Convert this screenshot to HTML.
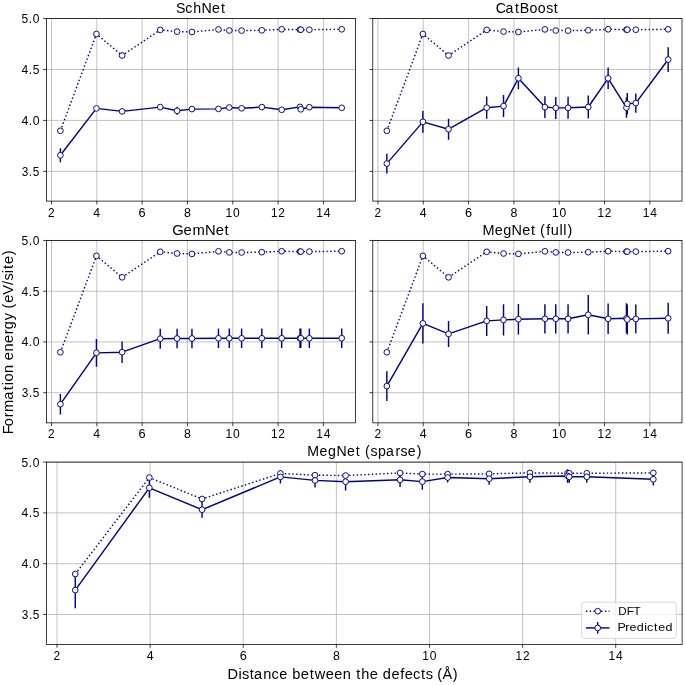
<!DOCTYPE html><html><head><meta charset="utf-8"><style>html,body{margin:0;padding:0;background:#fff;width:685px;height:685px;overflow:hidden}svg{display:block;will-change:transform}text{font-family:"Liberation Sans",sans-serif;fill:#000}</style></head><body>
<svg width="685" height="685" viewBox="0 0 685 685">
<rect width="685" height="685" fill="#fff"/>
<path d="M51.5 18.5V201.1M96.82 18.5V201.1M142.14 18.5V201.1M187.46 18.5V201.1M232.78 18.5V201.1M278.1 18.5V201.1M323.42 18.5V201.1M46.5 171.4H355.57M46.5 120.43H355.57M46.5 69.47H355.57M46.5 18.5H355.57" stroke="#b0b0b0" stroke-width="0.76" fill="none"/>
<path d="M60.39 148.25V162.35M96.44 106.4V110.4M122.1 109.4V113.4M160.24 105.1V109.1M177.08 106.75V114.85M191.95 107.1V111.1M218.46 106.9V110.9M229.3 105.5V109.5M241.62 106.3V110.3M261.82 105.1V109.1M281.68 107.8V111.8M299.99 104.9V108.9M300.81 107.3V111.3M309.35 105.2V109.2M341.72 105.8V109.8" stroke="#00008b" stroke-width="1.43" fill="none"/>
<polyline points="60.39,130.8 96.44,34 122.1,55.5 160.24,29.9 177.08,31.6 191.95,32 218.46,29.4 229.3,30.5 241.62,30.6 261.82,30.3 281.68,29.3 299.99,29.7 300.81,29.7 309.35,29.7 341.72,29.3" stroke="#00008b" stroke-width="1.43" fill="none" stroke-dasharray="1.43 2.36" stroke-linecap="butt"/>
<circle cx="60.39" cy="130.8" r="2.865" fill="#fff" stroke="#00008b" stroke-width="0.955"/>
<circle cx="96.44" cy="34" r="2.865" fill="#fff" stroke="#00008b" stroke-width="0.955"/>
<circle cx="122.1" cy="55.5" r="2.865" fill="#fff" stroke="#00008b" stroke-width="0.955"/>
<circle cx="160.24" cy="29.9" r="2.865" fill="#fff" stroke="#00008b" stroke-width="0.955"/>
<circle cx="177.08" cy="31.6" r="2.865" fill="#fff" stroke="#00008b" stroke-width="0.955"/>
<circle cx="191.95" cy="32" r="2.865" fill="#fff" stroke="#00008b" stroke-width="0.955"/>
<circle cx="218.46" cy="29.4" r="2.865" fill="#fff" stroke="#00008b" stroke-width="0.955"/>
<circle cx="229.3" cy="30.5" r="2.865" fill="#fff" stroke="#00008b" stroke-width="0.955"/>
<circle cx="241.62" cy="30.6" r="2.865" fill="#fff" stroke="#00008b" stroke-width="0.955"/>
<circle cx="261.82" cy="30.3" r="2.865" fill="#fff" stroke="#00008b" stroke-width="0.955"/>
<circle cx="281.68" cy="29.3" r="2.865" fill="#fff" stroke="#00008b" stroke-width="0.955"/>
<circle cx="299.99" cy="29.7" r="2.865" fill="#fff" stroke="#00008b" stroke-width="0.955"/>
<circle cx="300.81" cy="29.7" r="2.865" fill="#fff" stroke="#00008b" stroke-width="0.955"/>
<circle cx="309.35" cy="29.7" r="2.865" fill="#fff" stroke="#00008b" stroke-width="0.955"/>
<circle cx="341.72" cy="29.3" r="2.865" fill="#fff" stroke="#00008b" stroke-width="0.955"/>
<polyline points="60.39,155.3 96.44,108.4 122.1,111.4 160.24,107.1 177.08,110.8 191.95,109.1 218.46,108.9 229.3,107.5 241.62,108.3 261.82,107.1 281.68,109.8 299.99,106.9 300.81,109.3 309.35,107.2 341.72,107.8" stroke="#00008b" stroke-width="1.43" fill="none" stroke-linejoin="round"/>
<circle cx="60.39" cy="155.3" r="2.865" fill="#fff" stroke="#00008b" stroke-width="0.955"/>
<circle cx="96.44" cy="108.4" r="2.865" fill="#fff" stroke="#00008b" stroke-width="0.955"/>
<circle cx="122.1" cy="111.4" r="2.865" fill="#fff" stroke="#00008b" stroke-width="0.955"/>
<circle cx="160.24" cy="107.1" r="2.865" fill="#fff" stroke="#00008b" stroke-width="0.955"/>
<circle cx="177.08" cy="110.8" r="2.865" fill="#fff" stroke="#00008b" stroke-width="0.955"/>
<circle cx="191.95" cy="109.1" r="2.865" fill="#fff" stroke="#00008b" stroke-width="0.955"/>
<circle cx="218.46" cy="108.9" r="2.865" fill="#fff" stroke="#00008b" stroke-width="0.955"/>
<circle cx="229.3" cy="107.5" r="2.865" fill="#fff" stroke="#00008b" stroke-width="0.955"/>
<circle cx="241.62" cy="108.3" r="2.865" fill="#fff" stroke="#00008b" stroke-width="0.955"/>
<circle cx="261.82" cy="107.1" r="2.865" fill="#fff" stroke="#00008b" stroke-width="0.955"/>
<circle cx="281.68" cy="109.8" r="2.865" fill="#fff" stroke="#00008b" stroke-width="0.955"/>
<circle cx="299.99" cy="106.9" r="2.865" fill="#fff" stroke="#00008b" stroke-width="0.955"/>
<circle cx="300.81" cy="109.3" r="2.865" fill="#fff" stroke="#00008b" stroke-width="0.955"/>
<circle cx="309.35" cy="107.2" r="2.865" fill="#fff" stroke="#00008b" stroke-width="0.955"/>
<circle cx="341.72" cy="107.8" r="2.865" fill="#fff" stroke="#00008b" stroke-width="0.955"/>
<rect x="46.5" y="18.5" width="309.07" height="182.6" fill="none" stroke="#000" stroke-width="0.76" stroke-linejoin="miter"/>
<path d="M51.5 201.1v3.34M96.82 201.1v3.34M142.14 201.1v3.34M187.46 201.1v3.34M232.78 201.1v3.34M278.1 201.1v3.34M323.42 201.1v3.34M46.5 171.4h-3.34M46.5 120.43h-3.34M46.5 69.47h-3.34M46.5 18.5h-3.34" stroke="#000" stroke-width="0.76" fill="none"/>
<text transform="translate(0,216.6) scale(0.9922,1)" x="48.42" y="0" font-size="11.97">2</text>
<text transform="translate(0,216.6) scale(1.0295,1)" x="90.71" y="0" font-size="11.97">4</text>
<text transform="translate(0,216.6) scale(1.0662,1)" x="129.98" y="0" font-size="11.97">6</text>
<text transform="translate(0,216.6) scale(1.0395,1)" x="177" y="0" font-size="11.97">8</text>
<text transform="translate(0,216.6) scale(1.0081,1)" x="223.82 231.26" y="0" font-size="11.97">10</text>
<text transform="translate(0,216.6) scale(0.9880,1)" x="274.33 281.76" y="0" font-size="11.97">12</text>
<text transform="translate(0,216.6) scale(1.0083,1)" x="313.68 321.11" y="0" font-size="11.97">14</text>
<text transform="translate(0,175.85) scale(0.9874,1)" x="21.94 29.24 33.18" y="0" font-size="11.97">3.5</text>
<text transform="translate(0,124.88) scale(1.0315,1)" x="20.84 27.92 31.67" y="0" font-size="11.97">4.0</text>
<text transform="translate(0,73.92) scale(1.0062,1)" x="21.45 28.66 32.5" y="0" font-size="11.97">4.5</text>
<text transform="translate(0,22.95) scale(1.0060,1)" x="21.41 28.66 32.55" y="0" font-size="11.97">5.0</text>
<text transform="translate(0,12.85) scale(0.9390,1)" x="187.56 197.27 205.71 214.56 225.85 235.28" y="0" font-size="15.15">SchNet</text>
<path d="M377.95 18.5V201.1M423.27 18.5V201.1M468.59 18.5V201.1M513.91 18.5V201.1M559.23 18.5V201.1M604.55 18.5V201.1M649.87 18.5V201.1M372.79 171.4H681.99M372.79 120.43H681.99M372.79 69.47H681.99M372.79 18.5H681.99" stroke="#b0b0b0" stroke-width="0.76" fill="none"/>
<path d="M386.84 153.7V173.5M422.89 110.95V132.75M448.55 118.7V139.7M486.69 96.6V118.8M503.53 95.1V117.1M518.4 67.4V89.2M544.91 96.2V118M555.75 96.9V118.9M568.07 96.8V118.8M588.27 95.6V118.4M608.13 67.5V89.1M626.44 97.4V117.8M627.26 93V114.6M635.8 93.4V112.8M668.17 47.2V71.9" stroke="#00008b" stroke-width="1.43" fill="none"/>
<polyline points="386.84,130.8 422.89,34 448.55,55.5 486.69,29.9 503.53,31.6 518.4,32 544.91,29.4 555.75,30.5 568.07,30.6 588.27,30.3 608.13,29.3 626.44,29.7 627.26,29.7 635.8,29.7 668.17,29.3" stroke="#00008b" stroke-width="1.43" fill="none" stroke-dasharray="1.43 2.36" stroke-linecap="butt"/>
<circle cx="386.84" cy="130.8" r="2.865" fill="#fff" stroke="#00008b" stroke-width="0.955"/>
<circle cx="422.89" cy="34" r="2.865" fill="#fff" stroke="#00008b" stroke-width="0.955"/>
<circle cx="448.55" cy="55.5" r="2.865" fill="#fff" stroke="#00008b" stroke-width="0.955"/>
<circle cx="486.69" cy="29.9" r="2.865" fill="#fff" stroke="#00008b" stroke-width="0.955"/>
<circle cx="503.53" cy="31.6" r="2.865" fill="#fff" stroke="#00008b" stroke-width="0.955"/>
<circle cx="518.4" cy="32" r="2.865" fill="#fff" stroke="#00008b" stroke-width="0.955"/>
<circle cx="544.91" cy="29.4" r="2.865" fill="#fff" stroke="#00008b" stroke-width="0.955"/>
<circle cx="555.75" cy="30.5" r="2.865" fill="#fff" stroke="#00008b" stroke-width="0.955"/>
<circle cx="568.07" cy="30.6" r="2.865" fill="#fff" stroke="#00008b" stroke-width="0.955"/>
<circle cx="588.27" cy="30.3" r="2.865" fill="#fff" stroke="#00008b" stroke-width="0.955"/>
<circle cx="608.13" cy="29.3" r="2.865" fill="#fff" stroke="#00008b" stroke-width="0.955"/>
<circle cx="626.44" cy="29.7" r="2.865" fill="#fff" stroke="#00008b" stroke-width="0.955"/>
<circle cx="627.26" cy="29.7" r="2.865" fill="#fff" stroke="#00008b" stroke-width="0.955"/>
<circle cx="635.8" cy="29.7" r="2.865" fill="#fff" stroke="#00008b" stroke-width="0.955"/>
<circle cx="668.17" cy="29.3" r="2.865" fill="#fff" stroke="#00008b" stroke-width="0.955"/>
<polyline points="386.84,163.6 422.89,121.85 448.55,129.2 486.69,107.7 503.53,106.1 518.4,78.3 544.91,107.1 555.75,107.9 568.07,107.8 588.27,107 608.13,78.3 626.44,107.6 627.26,103.8 635.8,103.1 668.17,59.55" stroke="#00008b" stroke-width="1.43" fill="none" stroke-linejoin="round"/>
<circle cx="386.84" cy="163.6" r="2.865" fill="#fff" stroke="#00008b" stroke-width="0.955"/>
<circle cx="422.89" cy="121.85" r="2.865" fill="#fff" stroke="#00008b" stroke-width="0.955"/>
<circle cx="448.55" cy="129.2" r="2.865" fill="#fff" stroke="#00008b" stroke-width="0.955"/>
<circle cx="486.69" cy="107.7" r="2.865" fill="#fff" stroke="#00008b" stroke-width="0.955"/>
<circle cx="503.53" cy="106.1" r="2.865" fill="#fff" stroke="#00008b" stroke-width="0.955"/>
<circle cx="518.4" cy="78.3" r="2.865" fill="#fff" stroke="#00008b" stroke-width="0.955"/>
<circle cx="544.91" cy="107.1" r="2.865" fill="#fff" stroke="#00008b" stroke-width="0.955"/>
<circle cx="555.75" cy="107.9" r="2.865" fill="#fff" stroke="#00008b" stroke-width="0.955"/>
<circle cx="568.07" cy="107.8" r="2.865" fill="#fff" stroke="#00008b" stroke-width="0.955"/>
<circle cx="588.27" cy="107" r="2.865" fill="#fff" stroke="#00008b" stroke-width="0.955"/>
<circle cx="608.13" cy="78.3" r="2.865" fill="#fff" stroke="#00008b" stroke-width="0.955"/>
<circle cx="626.44" cy="107.6" r="2.865" fill="#fff" stroke="#00008b" stroke-width="0.955"/>
<circle cx="627.26" cy="103.8" r="2.865" fill="#fff" stroke="#00008b" stroke-width="0.955"/>
<circle cx="635.8" cy="103.1" r="2.865" fill="#fff" stroke="#00008b" stroke-width="0.955"/>
<circle cx="668.17" cy="59.55" r="2.865" fill="#fff" stroke="#00008b" stroke-width="0.955"/>
<rect x="372.79" y="18.5" width="309.2" height="182.6" fill="none" stroke="#000" stroke-width="0.76" stroke-linejoin="miter"/>
<path d="M377.95 201.1v3.34M423.27 201.1v3.34M468.59 201.1v3.34M513.91 201.1v3.34M559.23 201.1v3.34M604.55 201.1v3.34M649.87 201.1v3.34M372.79 171.4h-3.34M372.79 120.43h-3.34M372.79 69.47h-3.34M372.79 18.5h-3.34" stroke="#000" stroke-width="0.76" fill="none"/>
<text transform="translate(0,216.6) scale(0.9922,1)" x="377.44" y="0" font-size="11.97">2</text>
<text transform="translate(0,216.6) scale(1.0295,1)" x="407.8" y="0" font-size="11.97">4</text>
<text transform="translate(0,216.6) scale(1.0662,1)" x="436.17" y="0" font-size="11.97">6</text>
<text transform="translate(0,216.6) scale(1.0395,1)" x="491.03" y="0" font-size="11.97">8</text>
<text transform="translate(0,216.6) scale(1.0081,1)" x="547.64 555.08" y="0" font-size="11.97">10</text>
<text transform="translate(0,216.6) scale(0.9880,1)" x="604.76 612.19" y="0" font-size="11.97">12</text>
<text transform="translate(0,216.6) scale(1.0083,1)" x="637.44 644.87" y="0" font-size="11.97">14</text>
<text transform="translate(0,12.85) scale(0.9343,1)" x="530.73 541.19 551.21 556.22 566.65 575.67 584.54 592.81" y="0" font-size="15.15">CatBoost</text>
<path d="M51.5 240.46V422.85M96.82 240.46V422.85M142.14 240.46V422.85M187.46 240.46V422.85M232.78 240.46V422.85M278.1 240.46V422.85M323.42 240.46V422.85M46.54 392.7H355.57M46.54 341.95H355.57M46.54 291.21H355.57M46.54 240.46H355.57" stroke="#b0b0b0" stroke-width="0.76" fill="none"/>
<path d="M60.39 394V414.4M96.44 338.9V366.8M122.1 341.45V362.95M160.24 328.7V348.7M177.08 328.7V348.3M191.95 328.7V348.3M218.46 328.6V348M229.3 328.6V348M241.62 328.6V348M261.82 328.6V348M281.68 328.6V348M299.99 328.6V348M300.81 328.6V348M309.35 328.6V348M341.72 328.5V347.9" stroke="#00008b" stroke-width="1.43" fill="none"/>
<polyline points="60.39,352.28 96.44,255.89 122.1,277.3 160.24,251.81 177.08,253.5 191.95,253.9 218.46,251.31 229.3,252.41 241.62,252.51 261.82,252.21 281.68,251.21 299.99,251.61 300.81,251.61 309.35,251.61 341.72,251.21" stroke="#00008b" stroke-width="1.43" fill="none" stroke-dasharray="1.43 2.36" stroke-linecap="butt"/>
<circle cx="60.39" cy="352.28" r="2.865" fill="#fff" stroke="#00008b" stroke-width="0.955"/>
<circle cx="96.44" cy="255.89" r="2.865" fill="#fff" stroke="#00008b" stroke-width="0.955"/>
<circle cx="122.1" cy="277.3" r="2.865" fill="#fff" stroke="#00008b" stroke-width="0.955"/>
<circle cx="160.24" cy="251.81" r="2.865" fill="#fff" stroke="#00008b" stroke-width="0.955"/>
<circle cx="177.08" cy="253.5" r="2.865" fill="#fff" stroke="#00008b" stroke-width="0.955"/>
<circle cx="191.95" cy="253.9" r="2.865" fill="#fff" stroke="#00008b" stroke-width="0.955"/>
<circle cx="218.46" cy="251.31" r="2.865" fill="#fff" stroke="#00008b" stroke-width="0.955"/>
<circle cx="229.3" cy="252.41" r="2.865" fill="#fff" stroke="#00008b" stroke-width="0.955"/>
<circle cx="241.62" cy="252.51" r="2.865" fill="#fff" stroke="#00008b" stroke-width="0.955"/>
<circle cx="261.82" cy="252.21" r="2.865" fill="#fff" stroke="#00008b" stroke-width="0.955"/>
<circle cx="281.68" cy="251.21" r="2.865" fill="#fff" stroke="#00008b" stroke-width="0.955"/>
<circle cx="299.99" cy="251.61" r="2.865" fill="#fff" stroke="#00008b" stroke-width="0.955"/>
<circle cx="300.81" cy="251.61" r="2.865" fill="#fff" stroke="#00008b" stroke-width="0.955"/>
<circle cx="309.35" cy="251.61" r="2.865" fill="#fff" stroke="#00008b" stroke-width="0.955"/>
<circle cx="341.72" cy="251.21" r="2.865" fill="#fff" stroke="#00008b" stroke-width="0.955"/>
<polyline points="60.39,404.2 96.44,352.85 122.1,352.2 160.24,338.7 177.08,338.5 191.95,338.5 218.46,338.3 229.3,338.3 241.62,338.3 261.82,338.3 281.68,338.3 299.99,338.3 300.81,338.3 309.35,338.3 341.72,338.2" stroke="#00008b" stroke-width="1.43" fill="none" stroke-linejoin="round"/>
<circle cx="60.39" cy="404.2" r="2.865" fill="#fff" stroke="#00008b" stroke-width="0.955"/>
<circle cx="96.44" cy="352.85" r="2.865" fill="#fff" stroke="#00008b" stroke-width="0.955"/>
<circle cx="122.1" cy="352.2" r="2.865" fill="#fff" stroke="#00008b" stroke-width="0.955"/>
<circle cx="160.24" cy="338.7" r="2.865" fill="#fff" stroke="#00008b" stroke-width="0.955"/>
<circle cx="177.08" cy="338.5" r="2.865" fill="#fff" stroke="#00008b" stroke-width="0.955"/>
<circle cx="191.95" cy="338.5" r="2.865" fill="#fff" stroke="#00008b" stroke-width="0.955"/>
<circle cx="218.46" cy="338.3" r="2.865" fill="#fff" stroke="#00008b" stroke-width="0.955"/>
<circle cx="229.3" cy="338.3" r="2.865" fill="#fff" stroke="#00008b" stroke-width="0.955"/>
<circle cx="241.62" cy="338.3" r="2.865" fill="#fff" stroke="#00008b" stroke-width="0.955"/>
<circle cx="261.82" cy="338.3" r="2.865" fill="#fff" stroke="#00008b" stroke-width="0.955"/>
<circle cx="281.68" cy="338.3" r="2.865" fill="#fff" stroke="#00008b" stroke-width="0.955"/>
<circle cx="299.99" cy="338.3" r="2.865" fill="#fff" stroke="#00008b" stroke-width="0.955"/>
<circle cx="300.81" cy="338.3" r="2.865" fill="#fff" stroke="#00008b" stroke-width="0.955"/>
<circle cx="309.35" cy="338.3" r="2.865" fill="#fff" stroke="#00008b" stroke-width="0.955"/>
<circle cx="341.72" cy="338.2" r="2.865" fill="#fff" stroke="#00008b" stroke-width="0.955"/>
<rect x="46.54" y="240.46" width="309.03" height="182.39" fill="none" stroke="#000" stroke-width="0.76" stroke-linejoin="miter"/>
<path d="M51.5 422.85v3.34M96.82 422.85v3.34M142.14 422.85v3.34M187.46 422.85v3.34M232.78 422.85v3.34M278.1 422.85v3.34M323.42 422.85v3.34M46.54 392.7h-3.34M46.54 341.95h-3.34M46.54 291.21h-3.34M46.54 240.46h-3.34" stroke="#000" stroke-width="0.76" fill="none"/>
<text transform="translate(0,438.45) scale(0.9922,1)" x="48.42" y="0" font-size="11.97">2</text>
<text transform="translate(0,438.45) scale(1.0295,1)" x="90.71" y="0" font-size="11.97">4</text>
<text transform="translate(0,438.45) scale(1.0662,1)" x="129.98" y="0" font-size="11.97">6</text>
<text transform="translate(0,438.45) scale(1.0395,1)" x="177" y="0" font-size="11.97">8</text>
<text transform="translate(0,438.45) scale(1.0081,1)" x="223.82 231.26" y="0" font-size="11.97">10</text>
<text transform="translate(0,438.45) scale(0.9880,1)" x="274.33 281.76" y="0" font-size="11.97">12</text>
<text transform="translate(0,438.45) scale(1.0083,1)" x="313.68 321.11" y="0" font-size="11.97">14</text>
<text transform="translate(0,397.15) scale(0.9874,1)" x="21.98 29.28 33.22" y="0" font-size="11.97">3.5</text>
<text transform="translate(0,346.4) scale(1.0315,1)" x="20.88 27.95 31.7" y="0" font-size="11.97">4.0</text>
<text transform="translate(0,295.66) scale(1.0062,1)" x="21.49 28.7 32.54" y="0" font-size="11.97">4.5</text>
<text transform="translate(0,244.91) scale(1.0060,1)" x="21.45 28.7 32.59" y="0" font-size="11.97">5.0</text>
<text transform="translate(0,234.81) scale(0.9770,1)" x="176.33 187.83 196.95 209.88 220.78 229.92" y="0" font-size="15.15">GemNet</text>
<path d="M377.95 240.46V422.85M423.27 240.46V422.85M468.59 240.46V422.85M513.91 240.46V422.85M559.23 240.46V422.85M604.55 240.46V422.85M649.87 240.46V422.85M372.79 392.7H681.99M372.79 341.95H681.99M372.79 291.21H681.99M372.79 240.46H681.99" stroke="#b0b0b0" stroke-width="0.76" fill="none"/>
<path d="M386.84 371.2V401M422.89 303.3V343.5M448.55 320.9V346.9M486.69 305.9V335.9M503.53 304.2V335.6M518.4 303.9V334.5M544.91 304.15V333.45M555.75 304.15V333.45M568.07 304.15V333.45M588.27 295.1V334.5M608.13 303.6V334M626.44 303.3V333.3M627.26 304.5V334.5M635.8 304.45V333.35M668.17 302.75V333.85" stroke="#00008b" stroke-width="1.43" fill="none"/>
<polyline points="386.84,352.28 422.89,255.89 448.55,277.3 486.69,251.81 503.53,253.5 518.4,253.9 544.91,251.31 555.75,252.41 568.07,252.51 588.27,252.21 608.13,251.21 626.44,251.61 627.26,251.61 635.8,251.61 668.17,251.21" stroke="#00008b" stroke-width="1.43" fill="none" stroke-dasharray="1.43 2.36" stroke-linecap="butt"/>
<circle cx="386.84" cy="352.28" r="2.865" fill="#fff" stroke="#00008b" stroke-width="0.955"/>
<circle cx="422.89" cy="255.89" r="2.865" fill="#fff" stroke="#00008b" stroke-width="0.955"/>
<circle cx="448.55" cy="277.3" r="2.865" fill="#fff" stroke="#00008b" stroke-width="0.955"/>
<circle cx="486.69" cy="251.81" r="2.865" fill="#fff" stroke="#00008b" stroke-width="0.955"/>
<circle cx="503.53" cy="253.5" r="2.865" fill="#fff" stroke="#00008b" stroke-width="0.955"/>
<circle cx="518.4" cy="253.9" r="2.865" fill="#fff" stroke="#00008b" stroke-width="0.955"/>
<circle cx="544.91" cy="251.31" r="2.865" fill="#fff" stroke="#00008b" stroke-width="0.955"/>
<circle cx="555.75" cy="252.41" r="2.865" fill="#fff" stroke="#00008b" stroke-width="0.955"/>
<circle cx="568.07" cy="252.51" r="2.865" fill="#fff" stroke="#00008b" stroke-width="0.955"/>
<circle cx="588.27" cy="252.21" r="2.865" fill="#fff" stroke="#00008b" stroke-width="0.955"/>
<circle cx="608.13" cy="251.21" r="2.865" fill="#fff" stroke="#00008b" stroke-width="0.955"/>
<circle cx="626.44" cy="251.61" r="2.865" fill="#fff" stroke="#00008b" stroke-width="0.955"/>
<circle cx="627.26" cy="251.61" r="2.865" fill="#fff" stroke="#00008b" stroke-width="0.955"/>
<circle cx="635.8" cy="251.61" r="2.865" fill="#fff" stroke="#00008b" stroke-width="0.955"/>
<circle cx="668.17" cy="251.21" r="2.865" fill="#fff" stroke="#00008b" stroke-width="0.955"/>
<polyline points="386.84,386.1 422.89,323.4 448.55,333.9 486.69,320.9 503.53,319.9 518.4,319.2 544.91,318.8 555.75,318.8 568.07,318.8 588.27,314.8 608.13,318.8 626.44,318.3 627.26,319.5 635.8,318.9 668.17,318.3" stroke="#00008b" stroke-width="1.43" fill="none" stroke-linejoin="round"/>
<circle cx="386.84" cy="386.1" r="2.865" fill="#fff" stroke="#00008b" stroke-width="0.955"/>
<circle cx="422.89" cy="323.4" r="2.865" fill="#fff" stroke="#00008b" stroke-width="0.955"/>
<circle cx="448.55" cy="333.9" r="2.865" fill="#fff" stroke="#00008b" stroke-width="0.955"/>
<circle cx="486.69" cy="320.9" r="2.865" fill="#fff" stroke="#00008b" stroke-width="0.955"/>
<circle cx="503.53" cy="319.9" r="2.865" fill="#fff" stroke="#00008b" stroke-width="0.955"/>
<circle cx="518.4" cy="319.2" r="2.865" fill="#fff" stroke="#00008b" stroke-width="0.955"/>
<circle cx="544.91" cy="318.8" r="2.865" fill="#fff" stroke="#00008b" stroke-width="0.955"/>
<circle cx="555.75" cy="318.8" r="2.865" fill="#fff" stroke="#00008b" stroke-width="0.955"/>
<circle cx="568.07" cy="318.8" r="2.865" fill="#fff" stroke="#00008b" stroke-width="0.955"/>
<circle cx="588.27" cy="314.8" r="2.865" fill="#fff" stroke="#00008b" stroke-width="0.955"/>
<circle cx="608.13" cy="318.8" r="2.865" fill="#fff" stroke="#00008b" stroke-width="0.955"/>
<circle cx="626.44" cy="318.3" r="2.865" fill="#fff" stroke="#00008b" stroke-width="0.955"/>
<circle cx="627.26" cy="319.5" r="2.865" fill="#fff" stroke="#00008b" stroke-width="0.955"/>
<circle cx="635.8" cy="318.9" r="2.865" fill="#fff" stroke="#00008b" stroke-width="0.955"/>
<circle cx="668.17" cy="318.3" r="2.865" fill="#fff" stroke="#00008b" stroke-width="0.955"/>
<rect x="372.79" y="240.46" width="309.2" height="182.39" fill="none" stroke="#000" stroke-width="0.76" stroke-linejoin="miter"/>
<path d="M377.95 422.85v3.34M423.27 422.85v3.34M468.59 422.85v3.34M513.91 422.85v3.34M559.23 422.85v3.34M604.55 422.85v3.34M649.87 422.85v3.34M372.79 392.7h-3.34M372.79 341.95h-3.34M372.79 291.21h-3.34M372.79 240.46h-3.34" stroke="#000" stroke-width="0.76" fill="none"/>
<text transform="translate(0,438.45) scale(0.9922,1)" x="377.44" y="0" font-size="11.97">2</text>
<text transform="translate(0,438.45) scale(1.0295,1)" x="407.8" y="0" font-size="11.97">4</text>
<text transform="translate(0,438.45) scale(1.0662,1)" x="436.17" y="0" font-size="11.97">6</text>
<text transform="translate(0,438.45) scale(1.0395,1)" x="491.03" y="0" font-size="11.97">8</text>
<text transform="translate(0,438.45) scale(1.0081,1)" x="547.64 555.08" y="0" font-size="11.97">10</text>
<text transform="translate(0,438.45) scale(0.9880,1)" x="604.76 612.19" y="0" font-size="11.97">12</text>
<text transform="translate(0,438.45) scale(1.0083,1)" x="637.44 644.87" y="0" font-size="11.97">14</text>
<text transform="translate(0,234.81) scale(0.9571,1)" x="504.09 516.85 525.72 534.49 545.59 554.88 560.03 564.32 570.65 575.41 584.53 588.53 592.87" y="0" font-size="15.15">MegNet (full)</text>
<path d="M57 462.1V644.45M150.12 462.1V644.45M243.24 462.1V644.45M336.36 462.1V644.45M429.48 462.1V644.45M522.6 462.1V644.45M615.72 462.1V644.45M46.54 614.5H682.1M46.54 563.7H682.1M46.54 512.9H682.1M46.54 462.1H682.1" stroke="#b0b0b0" stroke-width="0.76" fill="none"/>
<path d="M75.27 572V608.2M149.34 477.92V497.78M202.06 501.55V517.85M280.42 470.3V483.5M315.03 473.4V487.4M345.59 472.8V490.6M400.07 472.7V486.9M422.34 473.5V489.7M447.65 472.5V482.5M489.15 472.7V484.7M529.95 470.8V482.8M567.57 469.2V482.8M569.27 470.8V482.8M586.8 470.8V482.8M653.33 473.1V485.5" stroke="#00008b" stroke-width="1.43" fill="none"/>
<polyline points="75.27,574.03 149.34,477.55 202.06,498.98 280.42,473.46 315.03,475.16 345.59,475.56 400.07,472.96 422.34,474.06 447.65,474.16 489.15,473.86 529.95,472.86 567.57,473.26 569.27,473.26 586.8,473.26 653.33,472.86" stroke="#00008b" stroke-width="1.43" fill="none" stroke-dasharray="1.43 2.36" stroke-linecap="butt"/>
<circle cx="75.27" cy="574.03" r="2.865" fill="#fff" stroke="#00008b" stroke-width="0.955"/>
<circle cx="149.34" cy="477.55" r="2.865" fill="#fff" stroke="#00008b" stroke-width="0.955"/>
<circle cx="202.06" cy="498.98" r="2.865" fill="#fff" stroke="#00008b" stroke-width="0.955"/>
<circle cx="280.42" cy="473.46" r="2.865" fill="#fff" stroke="#00008b" stroke-width="0.955"/>
<circle cx="315.03" cy="475.16" r="2.865" fill="#fff" stroke="#00008b" stroke-width="0.955"/>
<circle cx="345.59" cy="475.56" r="2.865" fill="#fff" stroke="#00008b" stroke-width="0.955"/>
<circle cx="400.07" cy="472.96" r="2.865" fill="#fff" stroke="#00008b" stroke-width="0.955"/>
<circle cx="422.34" cy="474.06" r="2.865" fill="#fff" stroke="#00008b" stroke-width="0.955"/>
<circle cx="447.65" cy="474.16" r="2.865" fill="#fff" stroke="#00008b" stroke-width="0.955"/>
<circle cx="489.15" cy="473.86" r="2.865" fill="#fff" stroke="#00008b" stroke-width="0.955"/>
<circle cx="529.95" cy="472.86" r="2.865" fill="#fff" stroke="#00008b" stroke-width="0.955"/>
<circle cx="567.57" cy="473.26" r="2.865" fill="#fff" stroke="#00008b" stroke-width="0.955"/>
<circle cx="569.27" cy="473.26" r="2.865" fill="#fff" stroke="#00008b" stroke-width="0.955"/>
<circle cx="586.8" cy="473.26" r="2.865" fill="#fff" stroke="#00008b" stroke-width="0.955"/>
<circle cx="653.33" cy="472.86" r="2.865" fill="#fff" stroke="#00008b" stroke-width="0.955"/>
<polyline points="75.27,590.1 149.34,487.85 202.06,509.7 280.42,476.9 315.03,480.4 345.59,481.7 400.07,479.8 422.34,481.6 447.65,477.5 489.15,478.7 529.95,476.8 567.57,476 569.27,476.8 586.8,476.8 653.33,479.3" stroke="#00008b" stroke-width="1.43" fill="none" stroke-linejoin="round"/>
<circle cx="75.27" cy="590.1" r="2.865" fill="#fff" stroke="#00008b" stroke-width="0.955"/>
<circle cx="149.34" cy="487.85" r="2.865" fill="#fff" stroke="#00008b" stroke-width="0.955"/>
<circle cx="202.06" cy="509.7" r="2.865" fill="#fff" stroke="#00008b" stroke-width="0.955"/>
<circle cx="280.42" cy="476.9" r="2.865" fill="#fff" stroke="#00008b" stroke-width="0.955"/>
<circle cx="315.03" cy="480.4" r="2.865" fill="#fff" stroke="#00008b" stroke-width="0.955"/>
<circle cx="345.59" cy="481.7" r="2.865" fill="#fff" stroke="#00008b" stroke-width="0.955"/>
<circle cx="400.07" cy="479.8" r="2.865" fill="#fff" stroke="#00008b" stroke-width="0.955"/>
<circle cx="422.34" cy="481.6" r="2.865" fill="#fff" stroke="#00008b" stroke-width="0.955"/>
<circle cx="447.65" cy="477.5" r="2.865" fill="#fff" stroke="#00008b" stroke-width="0.955"/>
<circle cx="489.15" cy="478.7" r="2.865" fill="#fff" stroke="#00008b" stroke-width="0.955"/>
<circle cx="529.95" cy="476.8" r="2.865" fill="#fff" stroke="#00008b" stroke-width="0.955"/>
<circle cx="567.57" cy="476" r="2.865" fill="#fff" stroke="#00008b" stroke-width="0.955"/>
<circle cx="569.27" cy="476.8" r="2.865" fill="#fff" stroke="#00008b" stroke-width="0.955"/>
<circle cx="586.8" cy="476.8" r="2.865" fill="#fff" stroke="#00008b" stroke-width="0.955"/>
<circle cx="653.33" cy="479.3" r="2.865" fill="#fff" stroke="#00008b" stroke-width="0.955"/>
<rect x="46.54" y="462.1" width="635.56" height="182.35" fill="none" stroke="#000" stroke-width="0.76" stroke-linejoin="miter"/>
<path d="M57 644.45v3.34M150.12 644.45v3.34M243.24 644.45v3.34M336.36 644.45v3.34M429.48 644.45v3.34M522.6 644.45v3.34M615.72 644.45v3.34M46.54 614.5h-3.34M46.54 563.7h-3.34M46.54 512.9h-3.34M46.54 462.1h-3.34" stroke="#000" stroke-width="0.76" fill="none"/>
<text transform="translate(0,659.95) scale(0.9922,1)" x="53.96" y="0" font-size="11.97">2</text>
<text transform="translate(0,659.95) scale(1.0295,1)" x="142.48" y="0" font-size="11.97">4</text>
<text transform="translate(0,659.95) scale(1.0662,1)" x="224.81" y="0" font-size="11.97">6</text>
<text transform="translate(0,659.95) scale(1.0395,1)" x="320.24" y="0" font-size="11.97">8</text>
<text transform="translate(0,659.95) scale(1.0081,1)" x="418.94 426.38" y="0" font-size="11.97">10</text>
<text transform="translate(0,659.95) scale(0.9880,1)" x="521.81 529.24" y="0" font-size="11.97">12</text>
<text transform="translate(0,659.95) scale(1.0083,1)" x="603.57 611" y="0" font-size="11.97">14</text>
<text transform="translate(0,618.95) scale(0.9874,1)" x="21.98 29.28 33.22" y="0" font-size="11.97">3.5</text>
<text transform="translate(0,568.15) scale(1.0315,1)" x="20.88 27.95 31.7" y="0" font-size="11.97">4.0</text>
<text transform="translate(0,517.35) scale(1.0062,1)" x="21.49 28.7 32.54" y="0" font-size="11.97">4.5</text>
<text transform="translate(0,466.55) scale(1.0060,1)" x="21.45 28.7 32.59" y="0" font-size="11.97">5.0</text>
<text transform="translate(0,456.45) scale(0.9341,1)" x="329.03 342.05 351.14 360.16 371.5 380.97 386.24 390.66 396.59 404.68 413.24 423.32 428.72 436.6 446.05" y="0" font-size="15.15">MegNet (sparse)</text>
<rect x="581.7" y="602.2" width="94.6" height="36.2" rx="2.3" ry="2.3" fill="#fff" fill-opacity="0.8" stroke="#ccc" stroke-opacity="0.8" stroke-width="0.97"/>
<path d="M585.9 611.2H609.5" stroke="#00008b" stroke-width="1.43" stroke-dasharray="1.43 2.36"/>
<circle cx="597.7" cy="611.2" r="2.865" fill="#fff" stroke="#00008b" stroke-width="0.955"/>
<path d="M597.7 622.15V633.65" stroke="#00008b" stroke-width="1.43"/>
<path d="M585.9 627.9H609.5" stroke="#00008b" stroke-width="1.43"/>
<circle cx="597.7" cy="627.9" r="2.865" fill="#fff" stroke="#00008b" stroke-width="0.955"/>
<text transform="translate(0,614.9) scale(1.0003,1)" x="618.11 626.55 633.26" y="0" font-size="11.66">DFT</text>
<text transform="translate(0,631.35) scale(1.0721,1)" x="576.03 583.31 587.16 593.86 600.83 603.57 610.08 613.98 620.68" y="0" font-size="11.66">Predicted</text>
<text transform="translate(0,679.35) scale(1.0021,1)" x="227.11 237.9 241.44 249.18 253.56 262.64 270.96 278.72 287.1 291.68 300.19 309.04 314.13 325.18 333.61 342.17 350.67 355.5 360.55 369.11 377.5 381.91 390.59 399.38 403.83 412.03 420.22 424.98 432.25 436.33 441.62 451.78" y="0" font-size="14.56">Distance between the defects (Å)</text>
<text transform="translate(12.9,432.4) rotate(-90) translate(0,0) scale(1.0037,1)" x="-1.88 6.15 15.01 20.35 32.63 41.97 46.98 50.62 59.15 67.62 71.99 80.51 89.02 97.87 102.79 111.64 119.46 123.52 129.14 137.17 146.95 151.28 158.65 162.78 167.69 176.5" y="0" font-size="14.52">Formation energy (eV/site)</text>
</svg></body></html>
